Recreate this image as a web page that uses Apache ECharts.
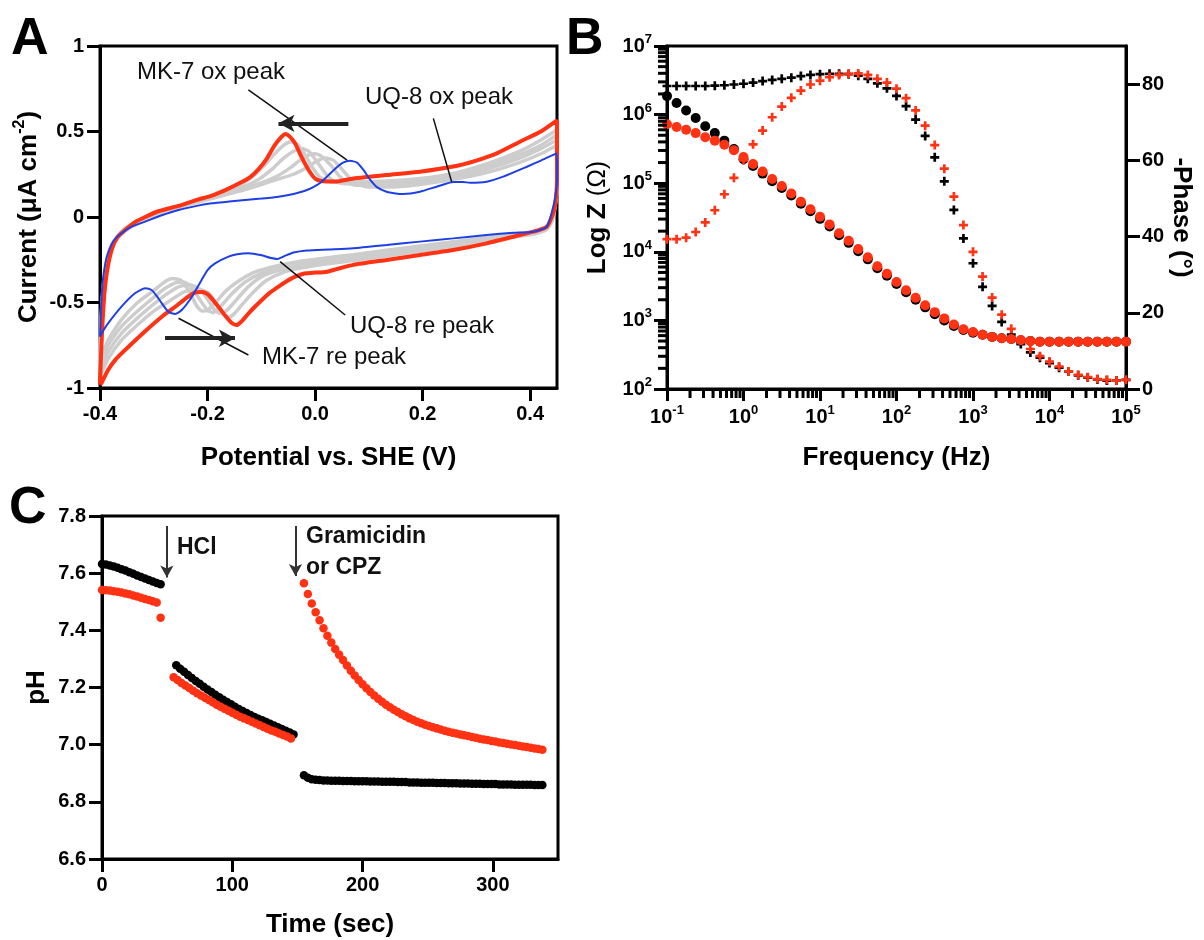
<!DOCTYPE html>
<html><head><meta charset="utf-8">
<script src="https://cdn.jsdelivr.net/npm/echarts@6.0.0/dist/echarts.min.js"></script>
<style>html,body{margin:0;padding:0;background:#fff}#c{width:1204px;height:940px}</style>
</head><body><div id="c"></div>
<script>
// ---------------- Panel A: cyclic voltammograms [V, current] ----------------
const cvRed = [[-0.400,-0.98],[-0.398,-0.80],[-0.395,-0.60],[-0.391,-0.42],[-0.386,-0.30],[-0.378,-0.19],[-0.368,-0.12],[-0.355,-0.08],[-0.335,-0.03],[-0.316,0.00],[-0.29,0.035],[-0.254,0.065],[-0.22,0.10],[-0.192,0.125],[-0.165,0.16],[-0.141,0.197],[-0.12,0.235],[-0.105,0.28],[-0.09,0.34],[-0.075,0.42],[-0.062,0.47],[-0.055,0.485],[-0.047,0.47],[-0.037,0.43],[-0.025,0.35],[-0.012,0.275],[0.0,0.225],[0.012,0.21],[0.037,0.207],[0.071,0.225],[0.133,0.246],[0.195,0.265],[0.257,0.295],[0.30,0.33],[0.34,0.375],[0.381,0.44],[0.42,0.50],[0.45,0.565],
[0.45,0.40],[0.45,0.22],[0.447,0.08],[0.443,0.023],[0.431,-0.057],[0.406,-0.086],[0.381,-0.105],[0.319,-0.154],[0.257,-0.193],[0.195,-0.222],[0.133,-0.251],[0.071,-0.28],[0.04,-0.305],[0.02,-0.322],[0.0,-0.325],[-0.02,-0.33],[-0.037,-0.349],[-0.055,-0.38],[-0.068,-0.407],[-0.085,-0.445],[-0.099,-0.485],[-0.112,-0.525],[-0.124,-0.565],[-0.135,-0.605],[-0.146,-0.632],[-0.155,-0.62],[-0.165,-0.585],[-0.18,-0.524],[-0.198,-0.456],[-0.21,-0.438],[-0.222,-0.44],[-0.236,-0.466],[-0.26,-0.525],[-0.285,-0.583],[-0.315,-0.665],[-0.347,-0.759],[-0.37,-0.83],[-0.385,-0.895],[-0.397,-0.97],[-0.400,-0.98]];
const cvBlue = [[-0.400,-0.70],[-0.398,-0.52],[-0.395,-0.38],[-0.39,-0.27],[-0.385,-0.21],[-0.375,-0.14],[-0.36,-0.095],[-0.34,-0.055],[-0.316,-0.027],[-0.285,0.01],[-0.254,0.041],[-0.22,0.065],[-0.192,0.08],[-0.16,0.09],[-0.13,0.099],[-0.10,0.108],[-0.068,0.119],[-0.04,0.135],[-0.02,0.152],[-0.006,0.17],[0.01,0.2],[0.025,0.245],[0.04,0.29],[0.052,0.318],[0.065,0.329],[0.078,0.318],[0.09,0.275],[0.102,0.22],[0.115,0.175],[0.133,0.148],[0.15,0.138],[0.164,0.135],[0.195,0.148],[0.226,0.177],[0.257,0.205],[0.275,0.205],[0.288,0.2],[0.319,0.206],[0.35,0.236],[0.394,0.294],[0.42,0.33],[0.449,0.372],
[0.45,0.30],[0.45,0.216],[0.447,0.12],[0.443,0.06],[0.431,-0.057],[0.406,-0.086],[0.369,-0.092],[0.319,-0.105],[0.257,-0.125],[0.195,-0.144],[0.133,-0.164],[0.071,-0.183],[0.025,-0.19],[-0.015,-0.196],[-0.04,-0.208],[-0.058,-0.23],[-0.07,-0.245],[-0.082,-0.24],[-0.099,-0.224],[-0.124,-0.212],[-0.145,-0.218],[-0.161,-0.232],[-0.186,-0.271],[-0.2,-0.31],[-0.211,-0.368],[-0.229,-0.466],[-0.248,-0.544],[-0.26,-0.567],[-0.273,-0.554],[-0.285,-0.505],[-0.295,-0.46],[-0.304,-0.427],[-0.316,-0.417],[-0.335,-0.446],[-0.36,-0.524],[-0.385,-0.622],[-0.397,-0.68],[-0.4,-0.70]];
const cvGray1 = [[-0.4,-0.85],[-0.398,-0.6],[-0.394,-0.4],[-0.388,-0.26],[-0.378,-0.16],[-0.362,-0.09],[-0.34,-0.04],[-0.316,-0.01],[-0.285,0.025],[-0.254,0.055],[-0.22,0.085],[-0.19,0.11],[-0.16,0.135],[-0.13,0.16],[-0.1,0.19],[-0.07,0.22],[-0.04,0.25],[-0.015,0.29],[0.005,0.33],[0.02,0.345],[0.035,0.33],[0.05,0.28],[0.065,0.225],[0.08,0.19],[0.1,0.175],[0.133,0.175],[0.195,0.19],[0.257,0.22],[0.319,0.26],[0.381,0.32],[0.42,0.37],[0.45,0.42],
[0.45,0.3],[0.45,0.18],[0.446,0.08],[0.44,0.0],[0.43,-0.06],[0.406,-0.09],[0.37,-0.1],[0.319,-0.12],[0.257,-0.145],[0.195,-0.17],[0.133,-0.195],[0.071,-0.22],[0.02,-0.24],[-0.03,-0.26],[-0.07,-0.285],[-0.11,-0.32],[-0.14,-0.37],[-0.165,-0.43],[-0.185,-0.5],[-0.2,-0.545],[-0.21,-0.55],[-0.22,-0.52],[-0.235,-0.43],[-0.25,-0.37],[-0.265,-0.36],[-0.28,-0.38],[-0.3,-0.43],[-0.33,-0.5],[-0.36,-0.6],[-0.385,-0.72],[-0.4,-0.85]];
const cvGray2 = [[-0.4,-0.88],[-0.398,-0.62],[-0.394,-0.42],[-0.388,-0.27],[-0.378,-0.165],[-0.362,-0.095],[-0.34,-0.045],[-0.316,-0.012],[-0.285,0.025],[-0.254,0.058],[-0.22,0.09],[-0.19,0.115],[-0.16,0.14],[-0.13,0.168],[-0.1,0.2],[-0.07,0.24],[-0.045,0.29],[-0.025,0.34],[-0.01,0.365],[0.0,0.37],[0.012,0.355],[0.03,0.3],[0.045,0.24],[0.06,0.2],[0.08,0.185],[0.133,0.19],[0.195,0.205],[0.257,0.235],[0.319,0.28],[0.381,0.345],[0.42,0.4],[0.45,0.45],
[0.45,0.3],[0.45,0.18],[0.446,0.07],[0.44,-0.01],[0.43,-0.065],[0.406,-0.095],[0.37,-0.11],[0.319,-0.13],[0.257,-0.155],[0.195,-0.18],[0.133,-0.205],[0.071,-0.23],[0.02,-0.25],[-0.03,-0.27],[-0.07,-0.3],[-0.1,-0.33],[-0.13,-0.38],[-0.155,-0.45],[-0.175,-0.52],[-0.19,-0.56],[-0.2,-0.545],[-0.215,-0.48],[-0.23,-0.41],[-0.245,-0.38],[-0.26,-0.385],[-0.28,-0.42],[-0.3,-0.47],[-0.33,-0.55],[-0.36,-0.64],[-0.385,-0.75],[-0.4,-0.88]];
const cvGray3 = [[-0.4,-0.9],[-0.398,-0.64],[-0.394,-0.44],[-0.388,-0.28],[-0.378,-0.17],[-0.362,-0.1],[-0.34,-0.05],[-0.316,-0.015],[-0.285,0.025],[-0.254,0.06],[-0.22,0.093],[-0.19,0.12],[-0.16,0.148],[-0.13,0.18],[-0.105,0.22],[-0.08,0.28],[-0.06,0.34],[-0.04,0.385],[-0.025,0.40],[-0.012,0.385],[0.002,0.33],[0.018,0.26],[0.035,0.21],[0.055,0.195],[0.08,0.195],[0.133,0.2],[0.195,0.215],[0.257,0.245],[0.319,0.295],[0.381,0.365],[0.42,0.42],[0.45,0.48],
[0.45,0.3],[0.45,0.18],[0.446,0.06],[0.44,-0.02],[0.43,-0.07],[0.406,-0.1],[0.37,-0.115],[0.319,-0.14],[0.257,-0.165],[0.195,-0.19],[0.133,-0.215],[0.071,-0.24],[0.02,-0.26],[-0.03,-0.285],[-0.07,-0.315],[-0.1,-0.35],[-0.125,-0.41],[-0.145,-0.48],[-0.162,-0.54],[-0.175,-0.565],[-0.187,-0.545],[-0.2,-0.48],[-0.215,-0.42],[-0.235,-0.395],[-0.255,-0.41],[-0.28,-0.46],[-0.3,-0.51],[-0.33,-0.59],[-0.36,-0.68],[-0.385,-0.79],[-0.4,-0.9]];
const cvGray4 = [[-0.4,-0.93],[-0.398,-0.7],[-0.394,-0.48],[-0.388,-0.3],[-0.378,-0.18],[-0.362,-0.105],[-0.34,-0.055],[-0.316,-0.018],[-0.285,0.025],[-0.254,0.062],[-0.22,0.097],[-0.19,0.125],[-0.16,0.158],[-0.135,0.195],[-0.115,0.24],[-0.095,0.3],[-0.075,0.37],[-0.058,0.42],[-0.045,0.44],[-0.033,0.425],[-0.02,0.37],[-0.005,0.29],[0.01,0.23],[0.03,0.205],[0.06,0.205],[0.133,0.21],[0.195,0.225],[0.257,0.255],[0.319,0.31],[0.381,0.385],[0.42,0.45],[0.45,0.51],
[0.45,0.3],[0.45,0.18],[0.446,0.05],[0.44,-0.03],[0.43,-0.075],[0.406,-0.1],[0.37,-0.115],[0.319,-0.145],[0.257,-0.175],[0.195,-0.2],[0.133,-0.228],[0.071,-0.255],[0.02,-0.275],[-0.03,-0.3],[-0.06,-0.325],[-0.09,-0.37],[-0.115,-0.44],[-0.135,-0.51],[-0.15,-0.565],[-0.16,-0.585],[-0.172,-0.565],[-0.185,-0.5],[-0.2,-0.44],[-0.22,-0.42],[-0.245,-0.44],[-0.275,-0.5],[-0.3,-0.55],[-0.33,-0.63],[-0.36,-0.72],[-0.385,-0.83],[-0.4,-0.93]];
const cvXTicks = [-0.4,-0.2,0,0.2,0.4];

// ---------------- Panel B: impedance (Bode) ----------------
const freqHz = [0.1,0.1334,0.1778,0.2371,0.3162,0.4217,0.5623,0.7499,1,1.334,1.778,2.371,3.162,4.217,5.623,7.499,10,13.34,17.78,23.71,31.62,42.17,56.23,74.99,100,133.4,177.8,237.1,316.2,421.7,562.3,749.9,1000,1334,1778,2371,3162,4217,5623,7499,10000,13340,17780,23710,31620,42170,56230,74990,100000];
const zBlack = [1.86e6,1.48e6,1.15e6,8.91e5,6.76e5,5.37e5,4.17e5,3.16e5,2.24e5,1.78e5,1.38e5,1.07e5,8.51e4,6.61e4,5.01e4,3.89e4,3.02e4,2.34e4,1.74e4,1.35e4,1.02e4,7.76e3,5.75e3,4.47e3,3.39e3,2.57e3,2.00e3,1.55e3,1.23e3,1.00e3,832,724,661,617,575,550,537,513,501,490,490,490,490,490,490,490,490,490,490];
const zRed = [7.24e5,6.61e5,6.03e5,5.37e5,4.68e5,4.17e5,3.63e5,3.02e5,2.40e5,1.91e5,1.48e5,1.15e5,9.12e4,7.08e4,5.37e4,4.17e4,3.24e4,2.51e4,1.86e4,1.45e4,1.10e4,8.32e3,6.17e3,4.79e3,3.63e3,2.75e3,2.14e3,1.66e3,1.32e3,1.07e3,871,741,676,617,575,550,537,513,501,490,490,490,490,490,490,490,490,490,490];
const phaseBlack = [79.5,79.5,79.5,79.5,79.5,79.6,79.7,79.9,80.1,80.4,80.8,81.1,81.4,81.7,82.1,82.4,82.6,82.7,82.7,82.6,82.2,81.4,80.2,78.9,76.9,74.2,70.7,66.4,60.8,54.5,47.0,39.5,33.0,26.8,21.8,17.6,14.3,11.8,9.6,8.2,6.8,5.6,4.6,3.6,3.0,2.5,2.2,2.2,2.4];
const phaseRed = [39.3,39.3,39.7,41.2,43.7,46.9,51.1,55.4,60.0,64.2,67.8,71.3,74.1,76.4,78.3,79.9,80.9,81.8,82.4,82.7,82.8,82.4,81.4,80.4,78.8,76.3,73.1,69.1,64.0,57.8,50.5,43.0,36.0,29.5,24.0,19.5,15.8,13.0,10.5,8.6,7.2,5.9,4.6,3.7,3.1,2.6,2.4,2.2,2.4];
const freqTicks = [0.1,1,10,100,1000,10000,100000];
const zTicks = [1e2,1e3,1e4,1e5,1e6,1e7];
const phaseTicks = [0,20,40,60,80];
const freqMinorTicks = [0.2,0.3,0.4,0.5,0.6,0.7,0.8,0.9,2,3,4,5,6,7,8,9,20,30,40,50,60,70,80,90,200,300,400,500,600,700,800,900,2000,3000,4000,5000,6000,7000,8000,9000,20000,30000,40000,50000,60000,70000,80000,90000];
const zMinorTicks = [200,300,400,500,600,700,800,900,2e3,3e3,4e3,5e3,6e3,7e3,8e3,9e3,2e4,3e4,4e4,5e4,6e4,7e4,8e4,9e4,2e5,3e5,4e5,5e5,6e5,7e5,8e5,9e5,2e6,3e6,4e6,5e6,6e6,7e6,8e6,9e6];

// ---------------- Panel C: pH vs time [s, pH] ----------------
const phBlack = [[0,7.632],[3,7.630],[6,7.627],[9,7.623],[12,7.619],[15,7.614],[18,7.609],[21,7.603],[24,7.598],[27,7.592],[30,7.587],[33,7.581],[36,7.576],[39,7.571],[42,7.566],[45,7.561],
[57,7.278],[60,7.266],[63,7.255],[66,7.244],[69,7.233],[72,7.223],[75,7.213],[78,7.203],[81,7.193],[84,7.184],[87,7.175],[90,7.166],[93,7.157],[96,7.149],[99,7.141],[102,7.133],[105,7.125],[108,7.118],[111,7.111],[114,7.104],[117,7.097],[120,7.091],[123,7.085],[126,7.079],[129,7.073],[132,7.067],[135,7.061],[138,7.055],[141,7.049],[144,7.043],[147,7.036],
[155,6.893],[158,6.884],[161,6.879],[164,6.877],[167,6.876],[170,6.875],[173,6.875],[176,6.874],[179,6.874],[182,6.874],[185,6.873],[188,6.873],[191,6.873],[194,6.872],[197,6.872],[200,6.872],[203,6.872],[206,6.871],[209,6.871],[212,6.871],[215,6.870],[218,6.870],[221,6.870],[224,6.870],[227,6.869],[230,6.869],[233,6.869],[236,6.868],[239,6.868],[242,6.868],[245,6.867],[248,6.867],[251,6.867],[254,6.867],[257,6.866],[260,6.866],[263,6.866],[266,6.865],[269,6.865],[272,6.865],[275,6.864],[278,6.864],[281,6.864],[284,6.863],[287,6.863],[290,6.863],[293,6.862],[296,6.862],[299,6.862],[302,6.862],[305,6.861],[308,6.861],[311,6.861],[314,6.861],[317,6.860],[320,6.860],[323,6.860],[326,6.860],[329,6.860],[332,6.859],[335,6.859],[338,6.859]];
const phRed = [[0,7.541],[3,7.540],[6,7.539],[9,7.537],[12,7.535],[15,7.532],[18,7.529],[21,7.526],[24,7.522],[27,7.518],[30,7.514],[33,7.510],[36,7.506],[39,7.502],[42,7.497],[45,7.444],
[55,7.236],[58,7.226],[61,7.216],[64,7.207],[67,7.198],[70,7.189],[73,7.180],[76,7.172],[79,7.164],[82,7.156],[85,7.148],[88,7.140],[91,7.133],[94,7.126],[97,7.119],[100,7.112],[103,7.105],[106,7.098],[109,7.092],[112,7.086],[115,7.080],[118,7.074],[121,7.068],[124,7.062],[127,7.056],[130,7.050],[133,7.045],[136,7.039],[139,7.034],[142,7.029],[145,7.022],
[155,7.565],[158,7.527],[161,7.494],[164,7.463],[167,7.435],[170,7.407],[173,7.381],[176,7.357],[179,7.335],[182,7.315],[185,7.296],[188,7.277],[191,7.259],[194,7.242],[197,7.226],[200,7.211],[203,7.197],[206,7.184],[209,7.172],[212,7.161],[215,7.150],[218,7.140],[221,7.131],[224,7.122],[227,7.114],[230,7.106],[233,7.099],[236,7.092],[239,7.086],[242,7.080],[245,7.075],[248,7.070],[251,7.065],[254,7.061],[257,7.057],[260,7.053],[263,7.049],[266,7.045],[269,7.042],[272,7.039],[275,7.036],[278,7.033],[281,7.030],[284,7.027],[287,7.024],[290,7.021],[293,7.018],[296,7.016],[299,7.013],[302,7.011],[305,7.008],[308,7.006],[311,7.003],[314,7.001],[317,6.999],[320,6.996],[323,6.994],[326,6.992],[329,6.989],[332,6.987],[335,6.985],[338,6.982]];
const timeTicks = [0,100,200,300];

// ---------------- styling ----------------
const FONT = 'Liberation Sans';
const RED = '#ff3214', BLUE = '#1f3fe6', GRAY = '#cdcdcd';
function merge(a, b) {
  const out = Array.isArray(a) ? a.slice() : Object.assign({}, a);
  for (const k in b) {
    if (b[k] && typeof b[k] === 'object' && !Array.isArray(b[k]) && a && typeof a[k] === 'object' && !Array.isArray(a[k])) out[k] = merge(a[k], b[k]);
    else out[k] = b[k];
  }
  return out;
}
const baseAxis = {
  nameLocation: 'middle',
  axisLine: {show: true, onZero: false, lineStyle: {color: '#000', width: 3}},
  axisTick: {show: true, inside: false, length: 13, lineStyle: {color: '#000', width: 3}},
  axisLabel: {color: '#000', fontSize: 20, fontWeight: 'bold', fontFamily: FONT, margin: 16},
  splitLine: {show: false},
  nameTextStyle: {color: '#000', fontSize: 26, fontWeight: 'bold', fontFamily: FONT}
};
const ax = (o) => merge(baseAxis, o);
const supRich = {
  b: {fontSize: 20, fontWeight: 'bold', fontFamily: FONT, color: '#000', lineHeight: 26},
  s: {fontSize: 13, fontWeight: 'bold', fontFamily: FONT, color: '#000', lineHeight: 13, verticalAlign: 'top'}
};
const powLabel = (v) => '{b|10}{s|' + Math.round(Math.log10(v)) + '}';
const plus = 'path://M3.5,0h3v3.5h3.5v3h-3.5v3.5h-3v-3.5h-3.5v-3h3.5z';

const cvLine = (data, color, width) => ({type: 'line', xAxisIndex: 0, yAxisIndex: 0, data, showSymbol: false, symbol: 'none',
  smooth: 0.2, lineStyle: {color, width}, silent: true, animation: false, z: 2});
const dots = (x, y, data, symbol, size, color, z) => ({type: 'scatter', xAxisIndex: x, yAxisIndex: y, data, symbol, symbolSize: size,
  itemStyle: {color, opacity: 1}, silent: true, z});

const grids = [
  {left: 100, top: 46, width: 457, height: 342, show: true, borderColor: '#000', borderWidth: 3},
  {left: 667, top: 46, width: 459, height: 343, show: true, borderColor: '#000', borderWidth: 3},
  {left: 102, top: 516, width: 456, height: 343, show: true, borderColor: '#000', borderWidth: 3}
];

const option = {
  backgroundColor: '#fff',
  animation: false,
  grid: grids,
  xAxis: [
    ax({type: 'value', gridIndex: 0, min: -0.4, max: 0.45, name: 'Potential vs. SHE (V)', nameGap: 57,
      axisLabel: {customValues: cvXTicks, formatter: (v) => v.toFixed(1)}, axisTick: {customValues: cvXTicks}}),
    ax({type: 'log', logBase: 10, gridIndex: 1, min: 0.1, max: 100000, name: 'Frequency (Hz)', nameGap: 56,
      axisLabel: {customValues: freqTicks, formatter: powLabel, rich: supRich, margin: 15}, axisTick: {customValues: freqTicks, length: 12}}),
    ax({type: 'value', gridIndex: 2, min: 0, max: 350, name: 'Time (sec)', nameGap: 53,
      axisLabel: {customValues: timeTicks}, axisTick: {customValues: timeTicks}})
  ],
  yAxis: [
    ax({type: 'value', gridIndex: 0, min: -1, max: 1, interval: 0.5, name: 'Current (μA cm{sup|-2})', nameGap: 50, nameRotate: 90,
      nameTextStyle: {lineHeight: 34, rich: {sup: {fontSize: 16, fontWeight: 'bold', fontFamily: FONT, color: '#000', lineHeight: 16, verticalAlign: 'top'}}}}),
    ax({type: 'log', logBase: 10, gridIndex: 1, min: 100, max: 1e7, name: 'Log Z {n|(Ω)}', nameGap: 56, nameRotate: 90,
      nameTextStyle: {rich: {n: {fontSize: 25, fontWeight: 'normal', fontFamily: FONT, color: '#000'}}},
      axisLabel: {customValues: zTicks, formatter: powLabel, rich: supRich, margin: 15}, axisTick: {customValues: zTicks}}),
    ax({type: 'value', gridIndex: 1, min: 0, max: 90, position: 'right', name: '-Phase (°)', nameGap: 42, nameRotate: -90,
      axisLabel: {customValues: phaseTicks, margin: 16}, axisTick: {customValues: phaseTicks, length: 14}}),
    ax({type: 'value', gridIndex: 2, min: 6.6, max: 7.8, interval: 0.2, name: 'pH', nameGap: 52, nameRotate: 90,
      axisLabel: {formatter: (v) => v.toFixed(1)}})
  ],
  series: [
    cvLine(cvGray1, GRAY, 3.5), cvLine(cvGray2, GRAY, 3.5), cvLine(cvGray3, GRAY, 3.5), cvLine(cvGray4, GRAY, 3.5),
    cvLine(cvRed, RED, 4),
    merge(cvLine(cvBlue, BLUE, 2), {z: 3, markLine: {
      silent: true, animation: false, label: {show: false}, symbol: ['none', 'none'],
      data: [
        [{coord: [-0.124, 0.743], lineStyle: {color: '#111', width: 1.5, type: 'solid'}}, {coord: [0.0595, 0.333]}],
        [{coord: [0.22, 0.577], lineStyle: {color: '#111', width: 1.5, type: 'solid'}}, {coord: [0.254, 0.206]}],
        [{coord: [-0.065, -0.261], lineStyle: {color: '#111', width: 1.5, type: 'solid'}}, {coord: [0.056, -0.573]}],
        [{coord: [-0.254, -0.592], lineStyle: {color: '#111', width: 1.5, type: 'solid'}}, {coord: [-0.124, -0.807]}],
        [{coord: [0.062, 0.548], symbol: 'none', lineStyle: {color: '#222', width: 4, type: 'solid'}}, {coord: [-0.068, 0.548], symbol: 'arrow', symbolSize: [13, 16]}],
        [{coord: [-0.279, -0.709], symbol: 'none', lineStyle: {color: '#222', width: 4, type: 'solid'}}, {coord: [-0.149, -0.709], symbol: 'arrow', symbolSize: [13, 16]}]
      ]}}),
    // Panel B
    dots(1, 1, freqHz.map((f, i) => [f, zBlack[i]]), 'circle', 10, '#000', 2),
    dots(1, 2, freqHz.map((f, i) => [f, phaseBlack[i]]), plus, 9, '#000', 3),
    dots(1, 1, freqHz.map((f, i) => [f, zRed[i]]), 'circle', 10, RED, 4),
    dots(1, 2, freqHz.map((f, i) => [f, phaseRed[i]]), plus, 9, RED, 5),
    // minor log ticks (outward)
    merge(dots(1, 1, freqMinorTicks.map((f) => [f, 100]), 'rect', [3, 9], '#000', 6), {symbolOffset: [0, 4.5], clip: false}),
    merge(dots(1, 1, zMinorTicks.map((v) => [0.1, v]), 'rect', [9, 3], '#000', 6), {symbolOffset: [-4.5, 0], clip: false}),
    // Panel C
    merge(dots(2, 3, phBlack, 'circle', 8.5, '#000', 2), {
      markLine: {silent: true, animation: false, label: {show: false}, symbol: ['none', 'arrow'], symbolSize: [10, 12],
        lineStyle: {color: '#333', width: 2, type: 'solid'},
        data: [[{coord: [49.8, 7.765]}, {coord: [49.8, 7.585]}], [{coord: [148.5, 7.765]}, {coord: [148.5, 7.59]}]]}}),
    dots(2, 3, phRed, 'circle', 8.5, RED, 3)
  ],
  graphic: [
    {type: 'text', left: 11, top: 14, style: {text: 'A', fontSize: 52, fontWeight: 'bold', fontFamily: FONT, fill: '#000'}},
    {type: 'text', left: 566, top: 14, style: {text: 'B', fontSize: 52, fontWeight: 'bold', fontFamily: FONT, fill: '#000'}},
    {type: 'text', left: 9, top: 483, style: {text: 'C', fontSize: 52, fontWeight: 'bold', fontFamily: FONT, fill: '#000'}},
    {type: 'text', left: 137, top: 60, style: {text: 'MK-7 ox peak', fontSize: 24, fontFamily: FONT, fill: '#111'}},
    {type: 'text', left: 365, top: 85, style: {text: 'UQ-8 ox peak', fontSize: 24, fontFamily: FONT, fill: '#111'}},
    {type: 'text', left: 350, top: 314, style: {text: 'UQ-8 re peak', fontSize: 24, fontFamily: FONT, fill: '#111'}},
    {type: 'text', left: 262, top: 345, style: {text: 'MK-7 re peak', fontSize: 24, fontFamily: FONT, fill: '#111'}},
    {type: 'text', left: 177, top: 536, style: {text: 'HCl', fontSize: 23, fontWeight: 'bold', fontFamily: FONT, fill: '#111'}},
    {type: 'text', left: 306, top: 525, style: {text: 'Gramicidin', fontSize: 23, fontWeight: 'bold', fontFamily: FONT, fill: '#111'}},
    {type: 'text', left: 306, top: 556, style: {text: 'or CPZ', fontSize: 23, fontWeight: 'bold', fontFamily: FONT, fill: '#111'}}
  ]
};
const chart = echarts.init(document.getElementById('c'), null, {renderer: 'canvas'});
chart.setOption(option);
</script></body></html>
